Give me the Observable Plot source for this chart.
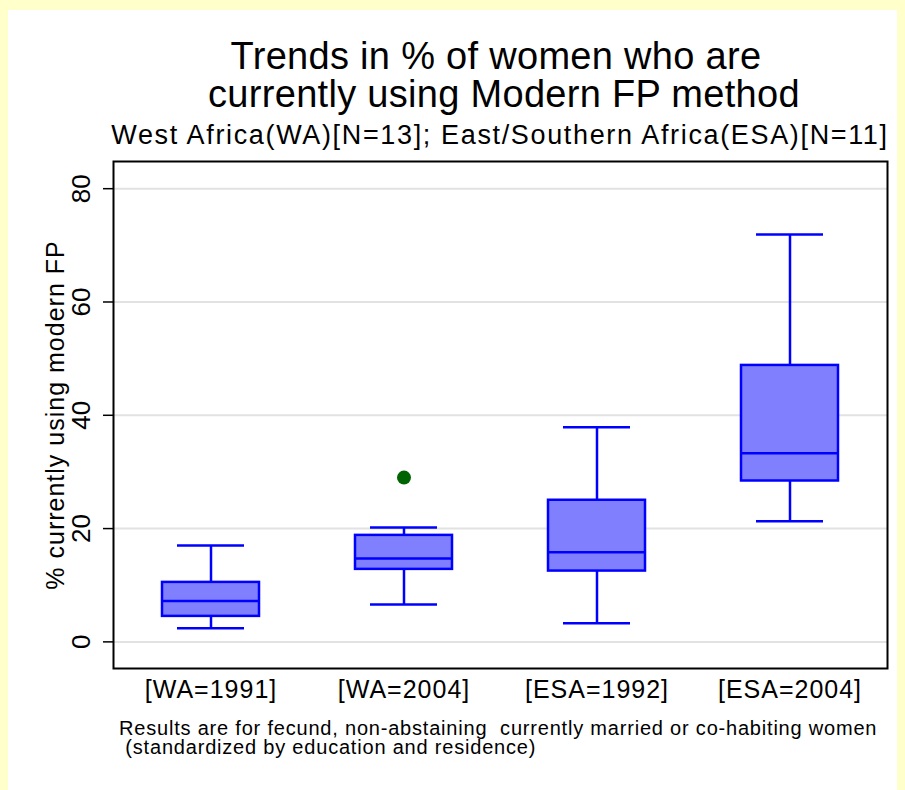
<!DOCTYPE html>
<html>
<head>
<meta charset="utf-8">
<script src="https://cdn.jsdelivr.net/npm/d3@7"></script>
<script src="https://cdn.jsdelivr.net/npm/@observablehq/plot@0.6"></script>
<style>
  body { margin: 0; background: #ffffcc; }
  #page { position: relative; width: 905px; height: 790px; background: #ffffcc; overflow: hidden;
          font-family: "Liberation Sans", Arial, sans-serif; color: #000; }
  #panel { position: absolute; left: 8px; top: 10px; width: 889px; height: 780px; background: #fff; }
  .t { position: absolute; white-space: pre; }
  #chart { position: absolute; left: 0; top: 150px; }
  .xlab text { letter-spacing: 1px; }
  .ylab text { letter-spacing: 1px; }
</style>
</head>
<body>
<div id="page">
  <div id="panel"></div>
  <div id="chart"></div>
  <div id="title1" class="t" style="left:96px;width:800px;top:37px;font-size:38px;line-height:38px;text-align:center;letter-spacing:0.3px"></div>
  <div id="title2" class="t" style="left:104px;width:800px;top:75px;font-size:38px;line-height:38px;text-align:center;letter-spacing:0.3px"></div>
  <div id="subtitle" class="t" style="left:100px;width:800px;top:122px;font-size:27px;line-height:27px;text-align:center;letter-spacing:1.65px"></div>
  <div id="caption" class="t" style="left:119px;top:718.5px;font-size:20px;line-height:19px;letter-spacing:0.8px"></div>
</div>
<script>
// ---- data ----
const categories = ["[WA=1991]", "[WA=2004]", "[ESA=1992]", "[ESA=2004]"];
const lowerWhisker = [2.4, 6.6, 3.3, 21.3];
const q1 = [4.5, 12.8, 12.5, 28.4];
const median = [7.2, 14.7, 15.8, 33.3];
const q3 = [10.5, 18.8, 25.0, 48.8];
const upperWhisker = [17.0, 20.2, 37.9, 71.9];
const outlierCategory = ["[WA=2004]"];
const outlierValue = [29.0];
const yTicks = [0, 20, 40, 60, 80];
const yLabel = "% currently using modern FP";
const titleLines = ["Trends in % of women who are", "currently using Modern FP method"];
const subtitleText = "West Africa(WA)[N=13]; East/Southern Africa(ESA)[N=11]";
const captionLines = [
  "Results are for fecund, non-abstaining  currently married or co-habiting women",
  " (standardized by education and residence)"
];

document.getElementById("title1").textContent = titleLines[0];
document.getElementById("title2").textContent = titleLines[1];
document.getElementById("subtitle").textContent = subtitleText;
document.getElementById("caption").textContent = captionLines.join("\n");

const boxes = categories.map((c, i) => ({
  cat: c, lo: lowerWhisker[i], q1: q1[i], med: median[i], q3: q3[i], hi: upperWhisker[i]
}));
const outliers = outlierCategory.map((c, i) => ({cat: c, v: outlierValue[i]}));

const blue = "#0000ff";
const sw = 2.5;

const marks = [
  Plot.ruleY(yTicks, {y: d => d, stroke: "#e2e2e2", strokeWidth: 2}),
  Plot.ruleX(boxes, {x: "cat", y1: "lo", y2: "q1", stroke: blue, strokeWidth: sw}),
  Plot.ruleX(boxes, {x: "cat", y1: "q3", y2: "hi", stroke: blue, strokeWidth: sw}),
  Plot.barY(boxes, {x: "cat", y1: "q1", y2: "q3", fill: "#8080ff", stroke: blue, strokeWidth: sw}),
  Plot.tickY(boxes, {x: "cat", y: "med", stroke: blue, strokeWidth: sw}),
  Plot.tickY(boxes, {x: "cat", y: "lo", stroke: blue, strokeWidth: sw, insetLeft: 15, insetRight: 15}),
  Plot.tickY(boxes, {x: "cat", y: "hi", stroke: blue, strokeWidth: sw, insetLeft: 15, insetRight: 15}),
  Plot.dot(outliers, {x: "cat", y: "v", r: 7, fill: "#006400", stroke: "none"}),
  Plot.frame({stroke: "#000", strokeWidth: 2}),
  Plot.text(yTicks, {y: d => d, text: d => String(d), frameAnchor: "left", dx: -32, rotate: -90,
                     fontSize: 26, textAnchor: "middle", lineAnchor: "middle"}),
  Plot.text([yLabel], {text: d => d, frameAnchor: "left", dx: -58, rotate: -90, fontSize: 25,
                       textAnchor: "middle", lineAnchor: "middle", className: "ylab"}),
  Plot.text(categories, {x: d => d, text: d => d, frameAnchor: "bottom", dy: 29, fontSize: 25,
                         textAnchor: "middle", className: "xlab"})
];
if (typeof Plot.axisY === "function") {
  marks.push(Plot.axisY(yTicks, {tickSize: 10, tickFormat: () => "", label: null, stroke: "#000", strokeWidth: 1.5}));
}

const chart = Plot.plot({
  width: 905,
  height: 600,
  marginLeft: 113,
  marginRight: 18,
  marginTop: 11,
  marginBottom: 82,
  style: {background: "transparent", fontFamily: "'Liberation Sans', Arial, sans-serif", fontSize: "24px", overflow: "visible", color: "#000"},
  x: {type: "band", domain: categories, paddingInner: 0.5, paddingOuter: 0.25, axis: null},
  y: {domain: [-4.7, 84.8], axis: typeof Plot.axisY === "function" ? null : "left", ticks: 5, tickSize: 10, tickFormat: () => "", label: null},
  marks
});
document.getElementById("chart").appendChild(chart);
</script>
</body>
</html>
